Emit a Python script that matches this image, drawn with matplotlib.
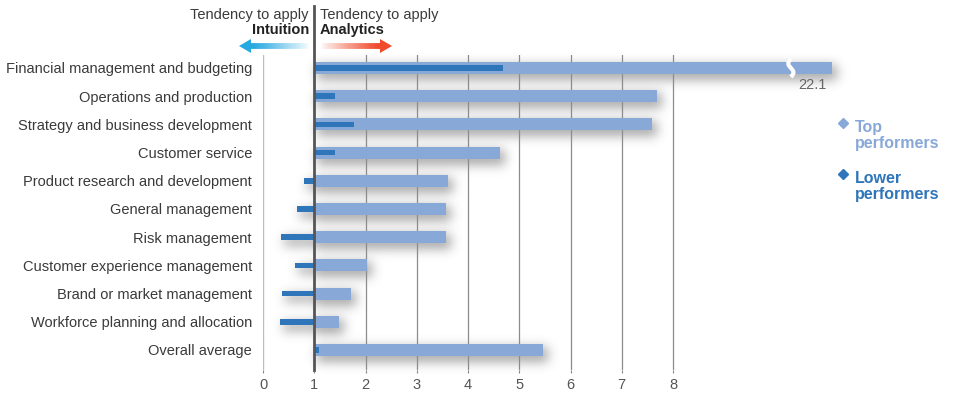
import numpy as np
import matplotlib
matplotlib.use('Agg')
import matplotlib.pyplot as plt
from matplotlib.collections import LineCollection
from matplotlib.patches import Polygon

plt.rcParams['font.family'] = ['Liberation Sans', 'DejaVu Sans']

categories = ['Financial management and budgeting', 'Operations and production',
              'Strategy and business development', 'Customer service',
              'Product research and development', 'General management', 'Risk management',
              'Customer experience management', 'Brand or market management',
              'Workforce planning and allocation', 'Overall average']
top_performers = [22.1, 7.69, 7.59, 4.62, 3.61, 3.57, 3.57, 2.03, 1.72, 1.48, 5.46]
lower_performers = [4.68, 1.40, 1.78, 1.40, 0.80, 0.66, 0.35, 0.62, 0.37, 0.33, 1.09]
x_ticks = [0, 1, 2, 3, 4, 5, 6, 7, 8]

TOP_COLOR = '#88a8d8'
LOW_COLOR = '#2e75b9'
TEXT_COLOR = '#3a3a3a'

# long bars get squeezed past the break
BREAK_START = 10.3
BREAK_SCALE = 0.068


def squeeze(v):
    return v if v <= BREAK_START else BREAK_START + (v - BREAK_START) * BREAK_SCALE


def gauss_blur(img, sigma):
    r = int(sigma * 3)
    k = np.exp(-0.5 * (np.arange(-r, r + 1) / sigma) ** 2)
    k /= k.sum()
    img = np.apply_along_axis(lambda row: np.convolve(row, k, mode='same'), 1, img)
    img = np.apply_along_axis(lambda col: np.convolve(col, k, mode='same'), 0, img)
    return img


def gradient_arrow(ax, x_tail, x_head, y, color):
    rgb = matplotlib.colors.to_rgb(color)
    n = 60
    d = np.sign(x_head - x_tail)
    xs = np.linspace(x_tail, x_head - d * 9, n + 1)
    segs = [[(xs[i], y), (xs[i + 1], y)] for i in range(n)]
    cols = [(*rgb, min(1, (i / n) ** 0.9 * 1.1)) for i in range(n)]
    ax.add_collection(LineCollection(segs, colors=cols, linewidths=4.2, capstyle='butt'))
    ax.add_patch(Polygon([(x_head, y), (x_head - d * 12, y - 7), (x_head - d * 12, y + 7)],
                         closed=True, color=color, lw=0))


W, H = 959, 394
fig = plt.figure(figsize=(W / 100, H / 100), dpi=100)
fig.patch.set_facecolor('white')

# full-figure layer for shadows, header and legend
over = fig.add_axes([0, 0, 1, 1], zorder=0)
over.set_xlim(0, W)
over.set_ylim(H, 0)
over.axis('off')

ax = fig.add_axes([263 / W, 24 / H, 579 / W, 315 / H], zorder=1)
ax.patch.set_alpha(0)
y = np.arange(len(categories))
ax.set_xlim(0, 579 / 51.25)
ax.set_ylim(10.71, -0.46)

for t in x_ticks:
    if t == 0:
        ax.axvline(t, color='#bdbdbd', lw=1.0, zorder=1)
    elif t != 1:
        ax.axvline(t, color='#8c8c8c', lw=0.9, zorder=1)
ax.axvline(1, ymin=0, ymax=(370 - 6) / 315, color='#555555', lw=2.0, zorder=5, clip_on=False)

top_w = [squeeze(v) - 1 for v in top_performers]
low_w = [v - 1 for v in lower_performers]
ax.barh(y, top_w, left=1, height=0.43, color=TOP_COLOR, zorder=3)
ax.barh(y, low_w, left=1, height=0.2, color=LOW_COLOR, zorder=4)

# break mark on the long bar
yy = np.linspace(-0.32, 0.32, 30)
ax.plot(BREAK_START + 0.05 * np.sin(yy / 0.32 * np.pi), yy, color='white', lw=3,
        zorder=4, solid_capstyle='butt')
ax.text(squeeze(top_performers[0]) - 0.1, 0.6, f'{top_performers[0]:.1f}', ha='right',
        va='center', fontsize=10.5, color='#666666')

ax.set_yticks(y)
ax.set_yticklabels(categories, fontsize=10.5, color=TEXT_COLOR)
ax.set_xticks(x_ticks)
ax.set_xticklabels([str(t) for t in x_ticks], fontsize=10.5, color='#555555')
ax.tick_params(axis='y', length=0, pad=8)
ax.tick_params(axis='x', length=2.5, color='#888888', pad=3)
for s in ax.spines.values():
    s.set_visible(False)

# soft drop shadows under the bars
mask = np.zeros((H, W))
for yi, tw, lw_ in zip(y, top_w, low_w):
    for left, width, hh in ((1, tw, 0.43), (1, lw_, 0.2)):
        x0, x1 = sorted([left, left + width])
        (px0, py0), (px1, py1) = ax.transData.transform([(x0, yi - hh / 2), (x1, yi + hh / 2)])
        c0, c1 = int(round(px0)) + 3, int(round(px1)) + 5
        r0, r1 = sorted([H - int(round(py0)), H - int(round(py1))])
        mask[r0 + 3:r1 + 6, c0:c1] = 1
mask = gauss_blur(mask, 5.5)
shadow = np.zeros((H, W, 4))
shadow[..., :3] = 0.38
shadow[..., 3] = np.clip(mask, 0, 1) * 0.55
over.imshow(shadow, extent=(0, W, H, 0), interpolation='bilinear', zorder=0)

# header
over.text(309, 15, 'Tendency to apply', ha='right', va='center', fontsize=10.5, color=TEXT_COLOR)
over.text(309, 30, 'Intuition', ha='right', va='center', fontsize=10.5, color='#222222',
          fontweight='bold')
over.text(320, 15, 'Tendency to apply', ha='left', va='center', fontsize=10.5, color=TEXT_COLOR)
over.text(320, 30, 'Analytics', ha='left', va='center', fontsize=10.5, color='#222222',
          fontweight='bold')
gradient_arrow(over, 310, 239, 46, '#27a9e1')
gradient_arrow(over, 320, 392, 46, '#f04b2c')

# legend
over.plot([843], [123], marker='D', ms=5, color=TOP_COLOR, lw=0)
over.text(855, 132, 'Top', ha='left', va='baseline', fontsize=11.5, color=TOP_COLOR,
          fontweight='bold')
over.text(855, 148, 'performers', ha='left', va='baseline', fontsize=11.5, color=TOP_COLOR,
          fontweight='bold')
over.plot([843], [174], marker='D', ms=5, color=LOW_COLOR, lw=0)
over.text(855, 183, 'Lower', ha='left', va='baseline', fontsize=11.5, color=LOW_COLOR,
          fontweight='bold')
over.text(855, 199, 'performers', ha='left', va='baseline', fontsize=11.5, color=LOW_COLOR,
          fontweight='bold')

fig.savefig('out.png', dpi=100, facecolor='white')
